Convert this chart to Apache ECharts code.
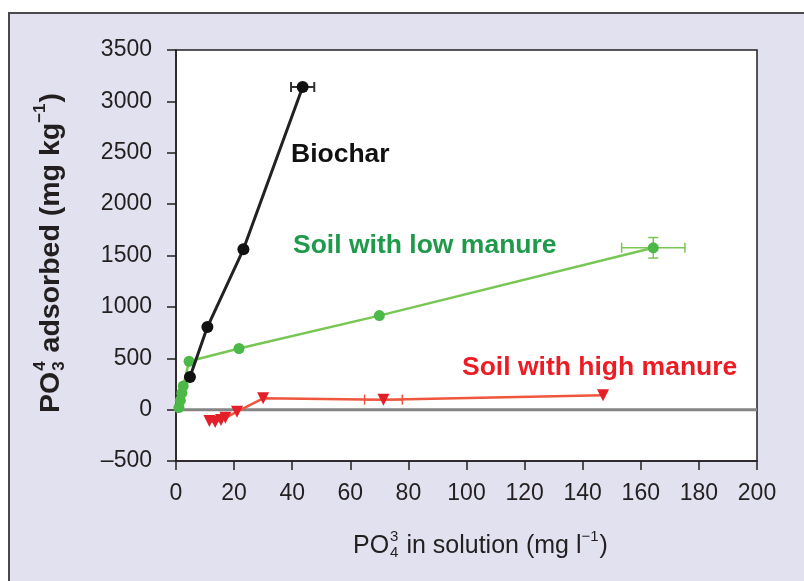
<!DOCTYPE html>
<html><head><meta charset="utf-8">
<script src="https://cdn.jsdelivr.net/npm/echarts@6/dist/echarts.min.js"></script>
<style>html,body{margin:0;padding:0;background:#fff}#c{width:804px;height:581px}</style>
</head><body><div id="c"></div>
<script>
// ---- data ----
const biocharX = [4.8, 10.8, 23.2, 43.6];
const biocharY = [317, 803, 1560, 3140];
const biocharXErr = [0, 0, 0, 4];
const biocharYErr = [0, 0, 0, 0];

const lowX = [1, 1.5, 2, 2.5, 4.5, 21.7, 70, 164.3];
const lowY = [20, 90, 160, 230, 470, 595, 915, 1575];
const lowXErr = [0, 0, 0, 0, 0, 0, 0, 10.9];
const lowYErr = [0, 0, 0, 0, 0, 0, 0, 100];

const highX = [11.5, 13.5, 15.5, 17, 21, 30, 71.4, 147];
const highY = [-110, -120, -100, -80, -20, 110, 97, 140];
const highXErr = [0, 0, 0, 0, 0, 0, 6.5, 0];
const highYErr = [0, 0, 0, 0, 0, 0, 0, 0];

const xMin = 0, xMax = 200, xStep = 20;
const yMin = -500, yMax = 3500, yStep = 500;

const seriesNames = ['Biochar', 'Soil with low manure', 'Soil with high manure'];
// ---------------

const FONT = '"Liberation Sans", Arial, Helvetica, sans-serif';
const INK = '#231f20';
const BLACK = '#111111', GREEN_M = '#4cb847', GREEN_L = '#78c653', GREEN_T = '#1f9a4b';
const RED_M = '#e3202a', RED_L = '#f0553d', RED_T = '#ed1c24';

const zip = (xs, ys) => xs.map((x, i) => [x, ys[i]]);
const errData = (xs, ys, ex, ey) => xs.map((x, i) => [x, ys[i], ex[i], ey[i]]).filter(d => d[2] || d[3]);

function errRender(color, w) {
  return function (params, api) {
    const x = api.value(0), y = api.value(1), ex = api.value(2), ey = api.value(3);
    const c = api.coord([x, y]);
    const children = [];
    const st = { stroke: color, lineWidth: w || 1.5 };
    const cap = 5;
    if (ex) {
      const l = api.coord([x - ex, y]), r = api.coord([x + ex, y]);
      children.push({ type: 'line', shape: { x1: l[0], y1: c[1], x2: r[0], y2: c[1] }, style: st });
      children.push({ type: 'line', shape: { x1: l[0], y1: c[1] - cap, x2: l[0], y2: c[1] + cap }, style: st });
      children.push({ type: 'line', shape: { x1: r[0], y1: c[1] - cap, x2: r[0], y2: c[1] + cap }, style: st });
    }
    if (ey) {
      const t = api.coord([x, y + ey]), b = api.coord([x, y - ey]);
      children.push({ type: 'line', shape: { x1: c[0], y1: t[1], x2: c[0], y2: b[1] }, style: st });
      children.push({ type: 'line', shape: { x1: c[0] - cap, y1: t[1], x2: c[0] + cap, y2: t[1] }, style: st });
      children.push({ type: 'line', shape: { x1: c[0] - cap, y1: b[1], x2: c[0] + cap, y2: b[1] }, style: st });
    }
    return { type: 'group', children };
  };
}

const mc = document.createElement('canvas').getContext('2d');
function tw(text, font) { mc.font = font; return mc.measureText(text).width; }

// build a title made of parts: {t}, {stack:[sub,sup]}, {sup}
function titleParts(parts, size, color, weight) {
  const small = Math.round(size * 0.6);
  const big = (weight || 'normal') + ' ' + size + 'px ' + FONT;
  const sm = (weight || 'normal') + ' ' + small + 'px ' + FONT;
  const kids = [];
  let x = 0;
  const txt = (t, px, py, f) => ({ type: 'text', x: px, y: py, style: { text: t, font: f, fill: color, verticalAlign: 'middle', textVerticalAlign: 'middle' } });
  parts.forEach(p => {
    if (p.t !== undefined) {
      kids.push(txt(p.t, x, 0, big));
      x += tw(p.t, big);
    } else if (p.stack) {
      kids.push(txt(p.stack[0], x + 1, size * 0.28, sm));
      kids.push(txt(p.stack[1], x + 1, -size * 0.38, sm));
      x += Math.max(tw(p.stack[0], sm), tw(p.stack[1], sm)) + 2;
    } else if (p.sup) {
      kids.push(txt(p.sup, x, -size * 0.38, sm));
      x += tw(p.sup, sm) + 1;
    }
  });
  return kids;
}

const chart = echarts.init(document.getElementById('c'), null, { renderer: 'canvas' });
const LBL = 'bold 26.5px ' + FONT;

const option = {
  animation: false,
  backgroundColor: '#ffffff',
  graphic: [
    { type: 'rect', z: -10, silent: true, shape: { x: 9, y: 13, width: 820, height: 600 },
      style: { fill: '#e1e1ef', stroke: '#4a4a4a', lineWidth: 2 } },
    { type: 'group', x: 353, y: 546, z: 10, children: titleParts([{ t: 'PO' }, { stack: ['4', '3'] }, { t: ' in solution (mg l' }, { sup: '−1' }, { t: ')' }], 25, INK) },
    { type: 'group', x: 51, y: 413, rotation: Math.PI / 2, z: 10, children: titleParts([{ t: 'PO' }, { stack: ['3', '4'] }, { t: ' adsorbed (mg kg' }, { sup: '−1' }, { t: ')' }], 28.5, INK, 'bold') },
    { type: 'text', x: 291, y: 155, z: 10, style: { text: seriesNames[0], font: LBL, fill: BLACK, verticalAlign: 'middle', textVerticalAlign: 'middle' } },
    { type: 'text', x: 293, y: 246, z: 10, style: { text: seriesNames[1], font: LBL, fill: GREEN_T, verticalAlign: 'middle', textVerticalAlign: 'middle' } },
    { type: 'text', x: 462, y: 368, z: 10, style: { text: seriesNames[2], font: LBL, fill: RED_T, verticalAlign: 'middle', textVerticalAlign: 'middle' } }
  ],
  grid: { left: 176, right: 47, top: 50, bottom: 120, show: true, backgroundColor: '#ffffff', borderColor: INK, borderWidth: 1.5, containLabel: false },
  xAxis: {
    type: 'value', min: xMin, max: xMax, interval: xStep,
    axisLine: { show: true, onZero: false, lineStyle: { color: INK, width: 1.5 } },
    axisTick: { show: true, length: 9, lineStyle: { color: INK, width: 1.5 } },
    axisLabel: { fontSize: 23, color: INK, fontFamily: FONT, margin: 21 },
    splitLine: { show: false }
  },
  yAxis: {
    type: 'value', min: yMin, max: yMax, interval: yStep,
    axisLine: { show: true, onZero: false, lineStyle: { color: INK, width: 1.5 } },
    axisTick: { show: true, length: 9, lineStyle: { color: INK, width: 1.5 } },
    axisLabel: { fontSize: 23, color: INK, fontFamily: FONT, margin: 24,
      formatter: v => (v < 0 ? '–' + Math.abs(v) : String(v)) },
    splitLine: { show: false }
  },
  series: [
    { type: 'line', data: [[xMin, 0], [xMax, 0]], z: 1, symbol: 'none', silent: true,
      lineStyle: { color: '#858585', width: 3 } },
    { name: seriesNames[1], type: 'line', data: zip(lowX, lowY), z: 3, symbol: 'circle', symbolSize: 11,
      itemStyle: { color: GREEN_M }, lineStyle: { color: GREEN_L, width: 2.5 } },
    { type: 'custom', data: errData(lowX, lowY, lowXErr, lowYErr), z: 3, renderItem: errRender(GREEN_L, 1.5), silent: true },
    { name: seriesNames[2], type: 'line', data: zip(highX, highY), z: 4, symbol: 'triangle', symbolRotate: 180, symbolSize: 12,
      itemStyle: { color: RED_M }, lineStyle: { color: RED_L, width: 2.5 } },
    { type: 'custom', data: errData(highX, highY, highXErr, highYErr), z: 4, renderItem: errRender(RED_L, 1.5), silent: true },
    { name: seriesNames[0], type: 'line', data: zip(biocharX, biocharY), z: 5, symbol: 'circle', symbolSize: 12,
      itemStyle: { color: BLACK }, lineStyle: { color: '#222', width: 3 } },
    { type: 'custom', data: errData(biocharX, biocharY, biocharXErr, biocharYErr), z: 5, renderItem: errRender('#333', 2), silent: true }
  ]
};
chart.setOption(option);
</script>
</body></html>
